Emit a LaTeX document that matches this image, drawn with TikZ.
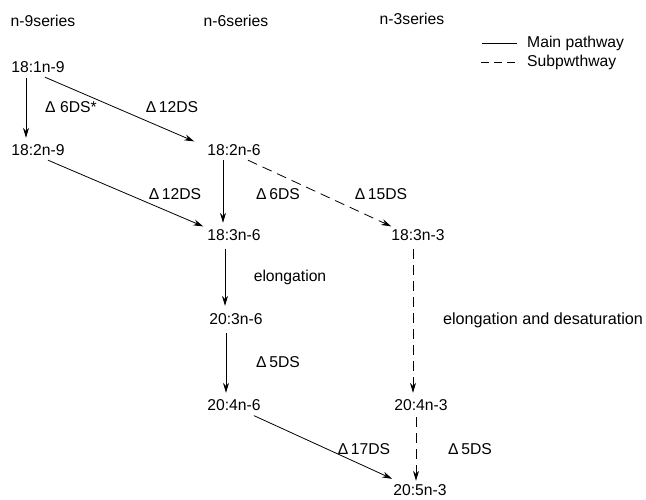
\documentclass[tikz,border=0pt]{standalone}
\usepackage{fontspec}
\setmainfont{Liberation Sans}
\usetikzlibrary{arrows.meta}
\begin{document}
\begin{tikzpicture}[x=1pt,y=-1pt,
  lbl/.style={font=\fontsize{15.7}{18}\selectfont, inner sep=2pt, text height=11pt, text depth=3pt, anchor=center},
  fa/.style={lbl},
  main/.style={line width=0.8pt, -{Stealth[length=10pt,width=6pt]}},
  sub/.style={line width=0.8pt, dash pattern=on 10pt off 6pt, -{Stealth[length=10pt,width=6pt]}}]
\useasboundingbox (0,0) rectangle (646,499);
% series headings
\node[lbl] (h9) at (43,22) {n-9series};
\node[lbl] (h6) at (236,22) {n-6series};
\node[lbl] (h3) at (412,20) {n-3series};
% legend
\coordinate (m1) at (482,43);
\coordinate (m2) at (517,43);
\coordinate (s1) at (481,62);
\coordinate (s2) at (518,62);
\draw[line width=0.8pt] (m1) -- (m2);
\draw[line width=0.8pt, dash pattern=on 8pt off 5pt] (s1) -- (s2);
\node[lbl, anchor=west] (lm) at (525,43) {Main pathway};
\node[lbl, anchor=west] (ls) at (525,62) {Subpwthway};
% fatty acids
\node[fa] (a) at (38,68) {18:1n-9};
\node[fa] (b) at (38,151) {18:2n-9};
\node[fa] (c) at (234,151) {18:2n-6};
\node[fa] (d) at (234,236) {18:3n-6};
\node[fa] (e) at (418,236) {18:3n-3};
\node[fa] (f) at (236,320) {20:3n-6};
\node[fa] (g) at (234,406) {20:4n-6};
\node[fa] (h) at (421,406) {20:4n-3};
\node[fa] (i) at (420,491) {20:5n-3};
% enzyme labels
\node[lbl] (l1) at (71,108) {Δ 6DS*};
\node[lbl] (l2) at (172,108) {Δ\,12DS};
\node[lbl] (l3) at (175,195) {Δ\,12DS};
\node[lbl] (l4) at (278,195) {Δ\,6DS};
\node[lbl] (l5) at (381,195) {Δ\,15DS};
\node[lbl] (l6) at (290,277) {elongation};
\node[lbl, font=\fontsize{16.2}{18}\selectfont] (l7) at (543,320) {elongation and desaturation};
\node[lbl] (l8) at (278,363) {Δ\,5DS};
\node[lbl] (l9) at (364,450) {Δ\,17DS};
\node[lbl] (l10) at (470,450) {Δ\,5DS};
% connectors
\draw[main, shorten <=1pt, shorten >=4pt] ([xshift=-12pt]a.south) -- ([xshift=-12pt]b.north);
\draw[main, shorten <=0pt, shorten >=1pt] ([xshift=7pt]a.south) -- ([xshift=-10pt]c.north west);
\draw[main, shorten >=1pt] ([xshift=10pt]b.south) -- ([xshift=-1pt]d.north west);
\draw[main, shorten >=4pt] ([xshift=-11pt]c.south) -- ([xshift=-11pt]d.north);
\draw[sub, shorten >=1pt] ([xshift=14pt]c.south) -- ([xshift=3pt]e.north west);
\draw[main, shorten <=4pt, shorten >=5pt] ([xshift=-9pt]d.south) -- ([xshift=-11pt]f.north);
\draw[sub, shorten <=4pt, shorten >=4pt] ([xshift=-5pt]e.south) -- ([xshift=-8pt]h.north);
\draw[main, shorten <=4pt, shorten >=4pt] ([xshift=-10pt]f.south) -- ([xshift=-8pt]g.north);
\draw[main, shorten <=1pt, shorten >=0pt] ([xshift=19pt]g.south) -- ([xshift=1pt,yshift=3pt]i.north west);
\draw[sub, shorten <=2pt, shorten >=1pt] ([xshift=-5pt]h.south) -- ([xshift=-4pt]i.north);
\end{tikzpicture}
\end{document}
